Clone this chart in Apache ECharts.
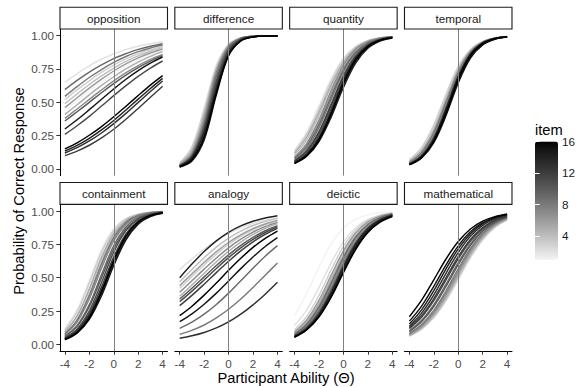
<!DOCTYPE html>
<html><head><meta charset="utf-8">
<script src="https://cdn.jsdelivr.net/npm/echarts@6/dist/echarts.min.js"></script>
<style>html,body{margin:0;padding:0;background:#fff}#c{width:587px;height:387px}</style>
</head><body><div id="c"></div>
<script>
// ---------- data ----------
const theta = [-4, -3, -2, -1, 0, 1, 2, 3, 4];
const items = [1, 2, 3, 4, 5, 6, 7, 8, 9, 10, 11, 12, 13, 14, 15, 16];
const panels = ['opposition', 'difference', 'quantity', 'temporal', 'containment', 'analogy', 'deictic', 'mathematical'];
const xTicks = [-4, -2, 0, 2, 4];
const yTicks = [0, 0.25, 0.5, 0.75, 1];
const legendBreaks = [4, 8, 12, 16];

// probability of correct response at each theta, one row per item (1..16)
const opposition = [
  [0.44, 0.513, 0.585, 0.653, 0.716, 0.771, 0.818, 0.858, 0.89],
  [0.65, 0.716, 0.774, 0.823, 0.863, 0.895, 0.921, 0.94, 0.955],
  [0.52, 0.593, 0.661, 0.724, 0.779, 0.826, 0.864, 0.895, 0.92],
  [0.49, 0.563, 0.634, 0.698, 0.757, 0.807, 0.848, 0.883, 0.91],
  [0.41, 0.482, 0.556, 0.627, 0.692, 0.751, 0.802, 0.845, 0.88],
  [0.46, 0.534, 0.606, 0.674, 0.735, 0.788, 0.833, 0.87, 0.9],
  [0.38, 0.45, 0.522, 0.593, 0.661, 0.722, 0.776, 0.822, 0.86],
  [0.545, 0.618, 0.686, 0.746, 0.799, 0.844, 0.88, 0.908, 0.93],
  [0.595, 0.664, 0.727, 0.781, 0.828, 0.865, 0.897, 0.921, 0.94],
  [0.36, 0.429, 0.5, 0.572, 0.64, 0.704, 0.76, 0.809, 0.85],
  [0.259, 0.324, 0.395, 0.472, 0.55, 0.625, 0.695, 0.757, 0.81],
  [0.1, 0.134, 0.178, 0.233, 0.298, 0.373, 0.454, 0.538, 0.62],
  [0.12, 0.16, 0.21, 0.27, 0.34, 0.417, 0.499, 0.581, 0.66],
  [0.135, 0.177, 0.23, 0.293, 0.364, 0.443, 0.524, 0.604, 0.68],
  [0.3, 0.369, 0.445, 0.523, 0.6, 0.673, 0.738, 0.794, 0.84],
  [0.151, 0.196, 0.253, 0.318, 0.392, 0.471, 0.551, 0.629, 0.7]
];
const difference = [
  [0.046, 0.169, 0.464, 0.787, 0.94, 0.985, 0.997, 0.999, 1],
  [0.036, 0.142, 0.426, 0.769, 0.937, 0.985, 0.997, 0.999, 1],
  [0.047, 0.167, 0.448, 0.767, 0.93, 0.982, 0.995, 0.999, 1],
  [0.031, 0.125, 0.389, 0.741, 0.928, 0.983, 0.996, 0.999, 1],
  [0.037, 0.141, 0.411, 0.748, 0.927, 0.982, 0.996, 0.999, 1],
  [0.03, 0.116, 0.359, 0.705, 0.911, 0.977, 0.995, 0.999, 1],
  [0.029, 0.117, 0.372, 0.726, 0.922, 0.981, 0.996, 0.999, 1],
  [0.026, 0.102, 0.326, 0.674, 0.898, 0.974, 0.994, 0.999, 1],
  [0.025, 0.102, 0.337, 0.695, 0.911, 0.979, 0.995, 0.999, 1],
  [0.02, 0.083, 0.289, 0.646, 0.891, 0.973, 0.994, 0.999, 1],
  [0.024, 0.095, 0.31, 0.657, 0.891, 0.972, 0.993, 0.998, 1],
  [0.021, 0.084, 0.281, 0.625, 0.877, 0.968, 0.992, 0.998, 1],
  [0.016, 0.068, 0.245, 0.593, 0.867, 0.967, 0.992, 0.998, 1],
  [0.022, 0.085, 0.273, 0.603, 0.861, 0.962, 0.99, 0.998, 0.999],
  [0.014, 0.059, 0.218, 0.556, 0.849, 0.962, 0.991, 0.998, 1],
  [0.017, 0.069, 0.239, 0.572, 0.851, 0.96, 0.99, 0.998, 0.999]
];
const quantity = [
  [0.144, 0.282, 0.479, 0.683, 0.834, 0.922, 0.965, 0.985, 0.993],
  [0.121, 0.25, 0.445, 0.659, 0.824, 0.918, 0.964, 0.985, 0.994],
  [0.134, 0.265, 0.458, 0.664, 0.822, 0.915, 0.962, 0.983, 0.993],
  [0.104, 0.218, 0.402, 0.619, 0.796, 0.904, 0.958, 0.982, 0.992],
  [0.119, 0.241, 0.426, 0.634, 0.802, 0.905, 0.957, 0.981, 0.992],
  [0.085, 0.183, 0.351, 0.566, 0.758, 0.883, 0.948, 0.978, 0.991],
  [0.088, 0.192, 0.368, 0.589, 0.779, 0.897, 0.955, 0.981, 0.992],
  [0.069, 0.153, 0.308, 0.522, 0.729, 0.869, 0.942, 0.976, 0.99],
  [0.078, 0.17, 0.331, 0.544, 0.742, 0.874, 0.944, 0.976, 0.99],
  [0.06, 0.136, 0.28, 0.489, 0.702, 0.853, 0.934, 0.972, 0.989],
  [0.053, 0.121, 0.254, 0.455, 0.673, 0.835, 0.926, 0.968, 0.987],
  [0.061, 0.136, 0.275, 0.478, 0.688, 0.842, 0.928, 0.969, 0.987],
  [0.047, 0.108, 0.229, 0.422, 0.642, 0.815, 0.916, 0.964, 0.985],
  [0.041, 0.095, 0.206, 0.389, 0.611, 0.794, 0.905, 0.959, 0.983],
  [0.046, 0.108, 0.232, 0.431, 0.656, 0.827, 0.923, 0.968, 0.987],
  [0.042, 0.099, 0.216, 0.409, 0.635, 0.813, 0.916, 0.965, 0.986]
];
const temporal = [
  [0.071, 0.166, 0.34, 0.571, 0.775, 0.899, 0.958, 0.983, 0.994],
  [0.062, 0.149, 0.315, 0.548, 0.762, 0.894, 0.957, 0.983, 0.994],
  [0.068, 0.159, 0.329, 0.559, 0.766, 0.894, 0.956, 0.983, 0.993],
  [0.05, 0.125, 0.279, 0.512, 0.741, 0.886, 0.955, 0.983, 0.994],
  [0.057, 0.137, 0.295, 0.524, 0.744, 0.885, 0.953, 0.982, 0.993],
  [0.045, 0.114, 0.259, 0.488, 0.721, 0.875, 0.95, 0.981, 0.993],
  [0.043, 0.109, 0.25, 0.475, 0.711, 0.87, 0.948, 0.98, 0.993],
  [0.05, 0.123, 0.273, 0.5, 0.727, 0.877, 0.95, 0.981, 0.993],
  [0.041, 0.104, 0.24, 0.463, 0.7, 0.864, 0.945, 0.979, 0.992],
  [0.039, 0.1, 0.231, 0.45, 0.69, 0.858, 0.943, 0.978, 0.992],
  [0.037, 0.095, 0.223, 0.438, 0.679, 0.852, 0.94, 0.977, 0.991],
  [0.036, 0.091, 0.214, 0.426, 0.668, 0.846, 0.937, 0.976, 0.991],
  [0.034, 0.087, 0.206, 0.413, 0.657, 0.839, 0.934, 0.975, 0.991],
  [0.037, 0.096, 0.227, 0.449, 0.693, 0.862, 0.946, 0.98, 0.993],
  [0.032, 0.083, 0.198, 0.401, 0.646, 0.832, 0.931, 0.973, 0.99],
  [0.033, 0.087, 0.21, 0.424, 0.671, 0.85, 0.94, 0.978, 0.992]
];
const containment = [
  [0.12, 0.265, 0.488, 0.716, 0.869, 0.946, 0.979, 0.992, 0.997],
  [0.11, 0.242, 0.453, 0.681, 0.847, 0.935, 0.974, 0.99, 0.996],
  [0.111, 0.247, 0.464, 0.695, 0.858, 0.941, 0.977, 0.991, 0.997],
  [0.093, 0.209, 0.406, 0.639, 0.821, 0.922, 0.968, 0.988, 0.995],
  [0.093, 0.213, 0.416, 0.653, 0.832, 0.929, 0.972, 0.989, 0.996],
  [0.078, 0.18, 0.361, 0.594, 0.791, 0.907, 0.962, 0.985, 0.994],
  [0.071, 0.166, 0.34, 0.571, 0.775, 0.899, 0.958, 0.983, 0.994],
  [0.078, 0.182, 0.37, 0.607, 0.803, 0.915, 0.966, 0.987, 0.995],
  [0.06, 0.141, 0.298, 0.524, 0.74, 0.88, 0.95, 0.98, 0.992],
  [0.058, 0.135, 0.283, 0.5, 0.717, 0.865, 0.942, 0.976, 0.991],
  [0.048, 0.115, 0.251, 0.464, 0.692, 0.853, 0.938, 0.975, 0.99],
  [0.044, 0.105, 0.23, 0.431, 0.657, 0.829, 0.925, 0.969, 0.988],
  [0.042, 0.099, 0.216, 0.409, 0.635, 0.813, 0.916, 0.965, 0.986],
  [0.039, 0.091, 0.201, 0.387, 0.613, 0.799, 0.909, 0.962, 0.984],
  [0.035, 0.084, 0.187, 0.365, 0.591, 0.784, 0.901, 0.958, 0.983],
  [0.036, 0.089, 0.201, 0.395, 0.628, 0.813, 0.919, 0.967, 0.987]
];
const analogy = [
  [0.45, 0.539, 0.626, 0.706, 0.774, 0.831, 0.875, 0.91, 0.935],
  [0.56, 0.641, 0.714, 0.778, 0.831, 0.873, 0.906, 0.931, 0.95],
  [0.42, 0.508, 0.595, 0.677, 0.749, 0.81, 0.859, 0.896, 0.925],
  [0.47, 0.562, 0.65, 0.729, 0.796, 0.849, 0.891, 0.922, 0.945],
  [0.36, 0.445, 0.533, 0.619, 0.698, 0.767, 0.824, 0.87, 0.905],
  [0.44, 0.528, 0.614, 0.694, 0.764, 0.821, 0.868, 0.903, 0.93],
  [0.39, 0.477, 0.564, 0.648, 0.724, 0.789, 0.842, 0.883, 0.915],
  [0.075, 0.105, 0.145, 0.198, 0.263, 0.34, 0.427, 0.519, 0.61],
  [0.12, 0.166, 0.226, 0.299, 0.384, 0.477, 0.571, 0.661, 0.74],
  [0.34, 0.421, 0.506, 0.591, 0.671, 0.742, 0.802, 0.852, 0.89],
  [0.32, 0.399, 0.483, 0.569, 0.65, 0.724, 0.787, 0.839, 0.88],
  [0.29, 0.367, 0.451, 0.538, 0.623, 0.701, 0.769, 0.825, 0.87],
  [0.045, 0.064, 0.089, 0.123, 0.168, 0.226, 0.296, 0.376, 0.465],
  [0.5, 0.602, 0.696, 0.776, 0.84, 0.888, 0.923, 0.948, 0.965],
  [0.17, 0.229, 0.301, 0.384, 0.475, 0.568, 0.655, 0.734, 0.8],
  [0.215, 0.286, 0.369, 0.46, 0.555, 0.645, 0.727, 0.795, 0.85]
];
const deictic = [
  [0.218, 0.382, 0.579, 0.754, 0.872, 0.938, 0.971, 0.987, 0.994],
  [0.142, 0.259, 0.426, 0.611, 0.769, 0.875, 0.937, 0.969, 0.985],
  [0.109, 0.21, 0.367, 0.558, 0.734, 0.857, 0.929, 0.966, 0.984],
  [0.088, 0.174, 0.314, 0.5, 0.686, 0.826, 0.912, 0.958, 0.98],
  [0.087, 0.169, 0.302, 0.481, 0.665, 0.809, 0.901, 0.951, 0.976],
  [0.094, 0.185, 0.331, 0.519, 0.702, 0.837, 0.918, 0.961, 0.982],
  [0.073, 0.145, 0.269, 0.443, 0.632, 0.787, 0.889, 0.945, 0.974],
  [0.07, 0.139, 0.257, 0.425, 0.612, 0.771, 0.878, 0.939, 0.971],
  [0.076, 0.152, 0.282, 0.461, 0.651, 0.803, 0.899, 0.951, 0.977],
  [0.063, 0.127, 0.24, 0.405, 0.595, 0.76, 0.873, 0.937, 0.97],
  [0.063, 0.126, 0.235, 0.397, 0.585, 0.751, 0.866, 0.932, 0.967],
  [0.059, 0.118, 0.222, 0.379, 0.566, 0.736, 0.857, 0.927, 0.965],
  [0.055, 0.111, 0.213, 0.368, 0.558, 0.731, 0.855, 0.927, 0.965],
  [0.057, 0.116, 0.223, 0.385, 0.577, 0.749, 0.867, 0.934, 0.969],
  [0.055, 0.11, 0.209, 0.361, 0.547, 0.721, 0.847, 0.922, 0.962],
  [0.055, 0.109, 0.206, 0.354, 0.537, 0.711, 0.839, 0.917, 0.959]
];
const mathematical = [
  [0.09, 0.161, 0.271, 0.418, 0.582, 0.729, 0.839, 0.91, 0.951],
  [0.06, 0.111, 0.197, 0.324, 0.483, 0.646, 0.781, 0.875, 0.932],
  [0.072, 0.134, 0.233, 0.375, 0.542, 0.701, 0.822, 0.901, 0.947],
  [0.064, 0.118, 0.208, 0.338, 0.5, 0.662, 0.792, 0.882, 0.936],
  [0.068, 0.125, 0.219, 0.354, 0.517, 0.676, 0.803, 0.889, 0.94],
  [0.073, 0.133, 0.23, 0.369, 0.533, 0.691, 0.814, 0.895, 0.943],
  [0.077, 0.141, 0.242, 0.385, 0.55, 0.705, 0.824, 0.901, 0.947],
  [0.082, 0.149, 0.255, 0.401, 0.567, 0.719, 0.833, 0.907, 0.95],
  [0.102, 0.18, 0.298, 0.451, 0.613, 0.754, 0.856, 0.92, 0.957],
  [0.096, 0.17, 0.284, 0.434, 0.598, 0.742, 0.848, 0.915, 0.954],
  [0.118, 0.203, 0.328, 0.484, 0.642, 0.775, 0.868, 0.927, 0.96],
  [0.125, 0.214, 0.343, 0.5, 0.657, 0.786, 0.875, 0.931, 0.963],
  [0.136, 0.234, 0.371, 0.533, 0.688, 0.81, 0.892, 0.941, 0.969],
  [0.152, 0.258, 0.402, 0.566, 0.716, 0.83, 0.904, 0.948, 0.972],
  [0.174, 0.287, 0.435, 0.596, 0.739, 0.844, 0.912, 0.952, 0.974],
  [0.207, 0.331, 0.484, 0.64, 0.771, 0.865, 0.924, 0.958, 0.978]
];
const panelData = [opposition, difference, quantity, temporal, containment, analogy, deictic, mathematical];

// ---------- styling ----------
const FONT = "'Liberation Sans', Arial, Helvetica, sans-serif";
function itemGray(i) {
  const t = (i - 1) / 15;
  const L = 96 * (1 - t);
  const Y = L > 8 ? Math.pow((L + 16) / 116, 3) : L / 903.3;
  const s = Y <= 0.0031308 ? 12.92 * Y : 1.055 * Math.pow(Y, 1 / 2.4) - 0.055;
  const v = Math.round(255 * Math.min(1, Math.max(0, s)));
  return 'rgb(' + v + ',' + v + ',' + v + ')';
}

const PW = 107.5, PH = 146.65, STEP = 114.83, LEFT0 = 60;
const ROWTOP = [29, 204.35];
const STRIPH = 21.8;

const grid = [], xAxis = [], yAxis = [], series = [], graphic = [];
panels.forEach((name, g) => {
  const r = Math.floor(g / 4), c = g % 4;
  const left = LEFT0 + c * STEP, top = ROWTOP[r];
  grid.push({ left: left, top: top, width: PW, height: PH });
  const bottomRow = r === 1, firstCol = c === 0;
  xAxis.push({
    gridIndex: g, type: 'value', min: -4.4, max: 4.4,
    axisLine: { show: bottomRow, onZero: false, lineStyle: { color: '#000', width: 1 } },
    axisTick: { show: bottomRow, customValues: xTicks, length: 3.7, lineStyle: { color: '#333', width: 1 } },
    axisLabel: { show: bottomRow, customValues: xTicks, margin: 6.5, color: '#4d4d4d', fontSize: 11.7, fontFamily: FONT },
    splitLine: { show: false }
  });
  yAxis.push({
    gridIndex: g, type: 'value', min: -0.05, max: 1.05,
    axisLine: { show: firstCol, onZero: false, lineStyle: { color: '#000', width: 1 } },
    axisTick: { show: firstCol, customValues: yTicks, length: 3.7, lineStyle: { color: '#333', width: 1 } },
    axisLabel: { show: firstCol, customValues: yTicks, margin: 6, color: '#4d4d4d', fontSize: 11.7, fontFamily: FONT,
                 formatter: v => Number(v).toFixed(2) },
    splitLine: { show: false }
  });
  const rows = panelData[g];
  items.forEach((it, k) => {
    const s = {
      type: 'line', name: name + ' ' + it, xAxisIndex: g, yAxisIndex: g,
      data: theta.map((t, j) => [t, rows[k][j]]),
      smooth: 0.35, symbol: 'none', showSymbol: false, silent: true,
      lineStyle: { color: itemGray(it), width: 1.45 }, z: 2
    };
    if (k === items.length - 1) {
      s.markLine = { symbol: 'none', silent: true, animation: false, label: { show: false },
        lineStyle: { color: '#808080', width: 1, type: 'solid' }, data: [{ xAxis: 0 }] };
    }
    series.push(s);
  });
  // strip
  const sy = top - STRIPH;
  graphic.push({ type: 'rect', shape: { x: left, y: sy, width: PW, height: STRIPH },
    style: { fill: '#fff', stroke: '#1a1a1a', lineWidth: 1.1 }, z: 10 });
  graphic.push({ type: 'text', x: left + PW / 2, y: sy + STRIPH / 2 + 0.5, z: 11,
    style: { text: name, fill: '#1a1a1a', font: '11.7px ' + FONT, align: 'center', verticalAlign: 'middle',
             textAlign: 'center', textVerticalAlign: 'middle' } });
});

// colorbar axis grid (labels for legend)
grid.push({ left: 535, top: 141.5, width: 23, height: 118 });
xAxis.push({ gridIndex: 8, type: 'value', show: false, min: 0, max: 1 });
yAxis.push({ gridIndex: 8, type: 'value', min: 1, max: 16, position: 'right', z: 10,
  axisLine: { show: false },
  axisTick: { show: true, inside: true, length: 4.6, customValues: legendBreaks, lineStyle: { color: '#fff', width: 1 } },
  axisLabel: { customValues: legendBreaks, margin: 4, color: '#1a1a1a', fontSize: 11.7, fontFamily: FONT },
  splitLine: { show: false } });
yAxis.push({ gridIndex: 8, type: 'value', min: 1, max: 16, position: 'left', z: 10,
  axisLine: { show: false },
  axisTick: { show: true, inside: true, length: 4.6, customValues: legendBreaks, lineStyle: { color: '#fff', width: 1 } },
  axisLabel: { show: false }, splitLine: { show: false } });

// axis titles & legend title
graphic.push({ type: 'text', x: 286, y: 377.5, z: 11,
  style: { text: 'Participant Ability (Θ)', fill: '#000', font: '14.7px ' + FONT, align: 'center', verticalAlign: 'middle',
           textAlign: 'center', textVerticalAlign: 'middle' } });
graphic.push({ type: 'text', x: 19, y: 191, rotation: Math.PI / 2, z: 11,
  style: { text: 'Probability of Correct Response', fill: '#000', font: '14.7px ' + FONT, align: 'center', verticalAlign: 'middle',
           textAlign: 'center', textVerticalAlign: 'middle' } });
graphic.push({ type: 'text', x: 535, y: 130, z: 11,
  style: { text: 'item', fill: '#000', font: '14.7px ' + FONT, align: 'left', verticalAlign: 'middle',
           textAlign: 'left', textVerticalAlign: 'middle' } });

const chart = echarts.init(document.getElementById('c'), null, { renderer: 'svg' });
chart.setOption({
  animation: false,
  backgroundColor: '#fff',
  grid: grid, xAxis: xAxis, yAxis: yAxis, series: series,
  visualMap: [{
    type: 'continuous', min: 1, max: 16, seriesIndex: [], show: true,
    left: 535, top: 141.5, itemWidth: 23, itemHeight: 118, padding: 0,
    calculable: false, realtime: false, hoverLink: false, text: null, z: 5,
    inRange: { color: items.map(itemGray) }
  }],
  graphic: graphic
});
</script>
</body></html>
